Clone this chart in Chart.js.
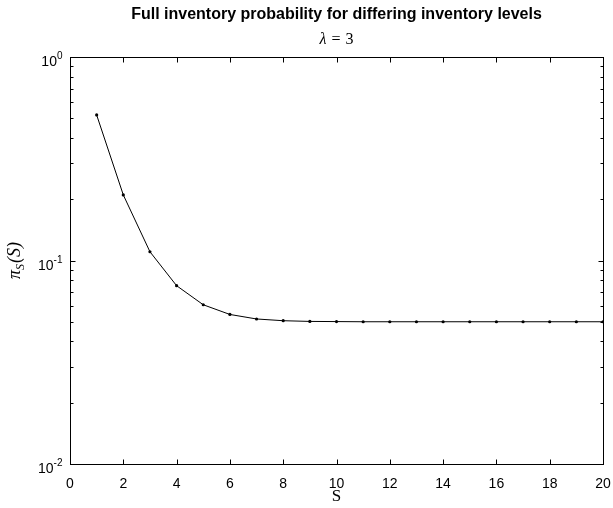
<!DOCTYPE html>
<html lang="en">
<head>
    <meta charset="UTF-8">
    <title>Full inventory probability</title>
    <script src="https://cdn.jsdelivr.net/npm/chart.js"></script>
    <style>
        body {
            margin: 0;
            background-color: #fff;
        }
        canvas {
            display: block;
        }
    </style>
</head>
<body>
    <canvas id="probChart" width="613" height="508"></canvas>
    <script>
        // inventory level S and full inventory probability pi_S(S), lambda = 3
        const levels = [1, 2, 3, 4, 5, 6, 7, 8, 9, 10, 11, 12, 13, 14, 15, 16, 17, 18, 19, 20];
        const fullProb = [0.519, 0.210, 0.1104, 0.0752, 0.0606, 0.0543, 0.0516, 0.0506, 0.0502, 0.0501,
                          0.0500, 0.0500, 0.0500, 0.0500, 0.0500, 0.0500, 0.0500, 0.0500, 0.0500, 0.0500];

        const xTicks = [0, 2, 4, 6, 8, 10, 12, 14, 16, 18, 20];
        const yDecades = [1, 0.1, 0.01];
        const yExponents = ['0', '-1', '-2'];

        const titleText = 'Full inventory probability for differing inventory levels';

        // matlab-style box, inward ticks and labels
        const axesPlugin = {
            id: 'matlabAxes',
            afterDraw(chart) {
                const ctx = chart.ctx;
                const area = chart.chartArea;
                const xs = chart.scales.x;
                const ys = chart.scales.y;
                ctx.save();
                ctx.strokeStyle = '#000';
                ctx.fillStyle = '#000';
                ctx.lineWidth = 1;

                const L = Math.round(area.left) + 0.5;
                const R = Math.round(area.right) + 0.5;
                const T = Math.round(area.top) + 0.5;
                const B = Math.round(area.bottom) + 0.5;
                ctx.strokeRect(L, T, R - L, B - T);

                // x ticks
                ctx.beginPath();
                xTicks.forEach(v => {
                    const px = Math.round(xs.getPixelForValue(v)) + 0.5;
                    ctx.moveTo(px, B); ctx.lineTo(px, B - 5);
                    ctx.moveTo(px, T); ctx.lineTo(px, T + 5);
                });
                // y ticks, major and minor
                yDecades.forEach(d => {
                    for (let m = 1; m <= 9; m++) {
                        const v = d * m;
                        if (v > 1.0001) continue;
                        const py = Math.round(ys.getPixelForValue(v)) + 0.5;
                        const len = m === 1 ? 5 : 3;
                        ctx.moveTo(L, py); ctx.lineTo(L + len, py);
                        ctx.moveTo(R, py); ctx.lineTo(R - len, py);
                    }
                });
                ctx.stroke();

                // x tick labels
                ctx.font = '14px "Liberation Sans", Arial, sans-serif';
                ctx.textAlign = 'center';
                ctx.textBaseline = 'alphabetic';
                xTicks.forEach(v => {
                    ctx.fillText(String(v), xs.getPixelForValue(v), B + 23);
                });

                // y tick labels 10^n
                yDecades.forEach((d, i) => {
                    const py = ys.getPixelForValue(d);
                    ctx.font = '10px "Liberation Sans", Arial, sans-serif';
                    ctx.textAlign = 'right';
                    const expW = ctx.measureText(yExponents[i]).width;
                    ctx.fillText(yExponents[i], L - 8, py + 2);
                    ctx.font = '14px "Liberation Sans", Arial, sans-serif';
                    ctx.fillText('10', L - 8 - expW, py + 9);
                });

                // title
                const cx = (area.left + area.right) / 2;
                ctx.textAlign = 'center';
                ctx.font = 'bold 16px "Liberation Sans", Arial, sans-serif';
                ctx.fillText(titleText, cx, 19);

                // subtitle: lambda = 3
                const serif = '16px "Liberation Serif", serif';
                ctx.font = 'italic ' + serif;
                const lamW = ctx.measureText('\u03bb').width;
                ctx.font = serif;
                const eqW = ctx.measureText('=').width;
                const threeW = ctx.measureText('3').width;
                const gap = 5;
                let sx = cx - (lamW + gap + eqW + gap + threeW) / 2;
                ctx.textAlign = 'left';
                ctx.font = 'italic ' + serif;
                ctx.fillText('\u03bb', sx, 44);
                sx += lamW + gap;
                ctx.font = serif;
                ctx.fillText('=', sx, 44);
                sx += eqW + gap;
                ctx.fillText('3', sx, 44);

                // x axis label
                ctx.textAlign = 'center';
                ctx.font = '17px "Liberation Serif", serif';
                ctx.fillText('S', cx, 501);

                // y axis label pi_S(S)
                ctx.translate(20, (area.top + area.bottom) / 2);
                ctx.rotate(-Math.PI / 2);
                const big = 'italic 18px "Liberation Serif", serif';
                const small = 'italic 12px "Liberation Serif", serif';
                ctx.font = big;
                const w1 = ctx.measureText('\u03c0').width;
                const w3 = ctx.measureText('(S)').width;
                ctx.font = small;
                const w2 = ctx.measureText('S').width;
                let px = -(w1 + w2 + w3 + 1) / 2;
                ctx.textAlign = 'left';
                ctx.font = big;
                ctx.fillText('\u03c0', px, 0);
                px += w1;
                ctx.font = small;
                ctx.fillText('S', px, 4);
                px += w2 + 1;
                ctx.font = big;
                ctx.fillText('(S)', px, 0);

                ctx.restore();
            }
        };

        const ctx = document.getElementById('probChart').getContext('2d');
        const probChart = new Chart(ctx, {
            type: 'line',
            data: {
                datasets: [{
                    data: levels.map((s, i) => ({ x: s, y: fullProb[i] })),
                    borderColor: '#000',
                    backgroundColor: '#000',
                    borderWidth: 1,
                    pointRadius: 1.6,
                    pointBorderWidth: 0,
                    pointBackgroundColor: '#000',
                    tension: 0
                }]
            },
            options: {
                responsive: false,
                animation: false,
                layout: {
                    padding: { left: 70, right: 10, top: 57, bottom: 44 }
                },
                plugins: {
                    legend: { display: false },
                    tooltip: { enabled: false }
                },
                scales: {
                    x: { type: 'linear', min: 0, max: 20, display: false },
                    y: { type: 'logarithmic', min: 0.01, max: 1, display: false }
                }
            },
            plugins: [axesPlugin]
        });
    </script>
</body>
</html>
